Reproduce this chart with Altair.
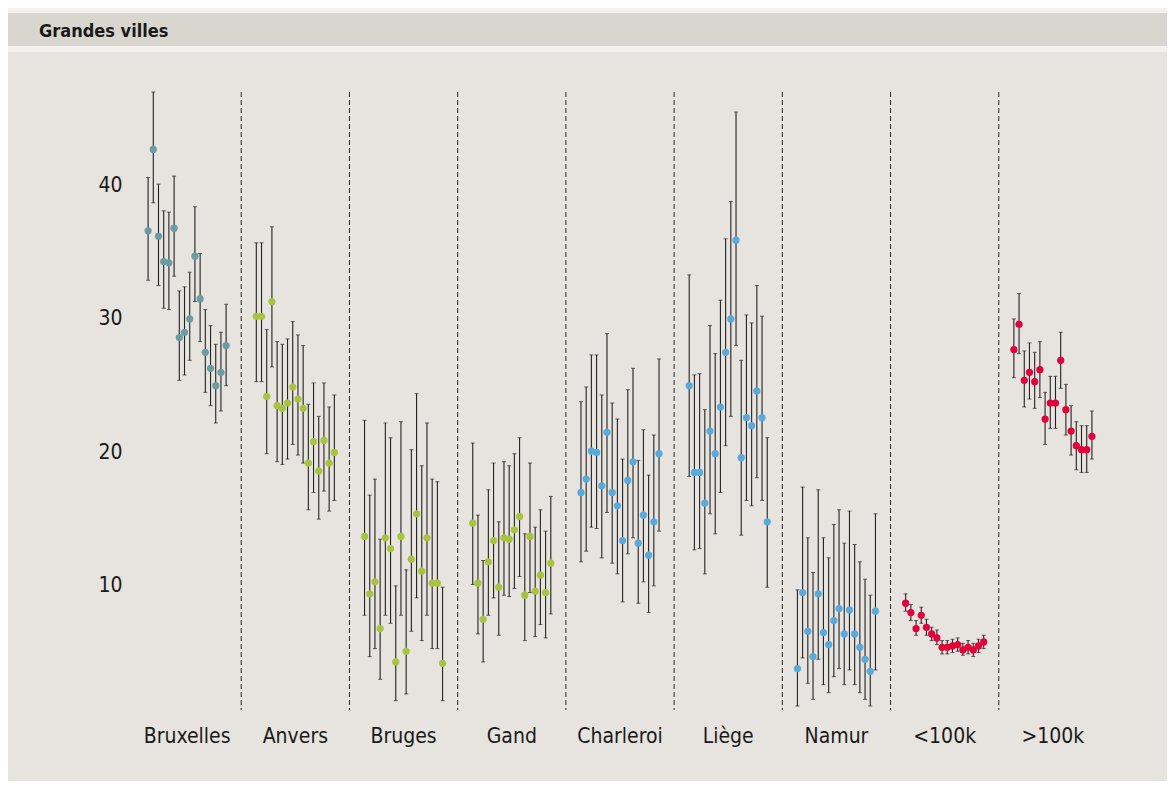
import altair as alt
import pandas as pd

# ---------------- data ----------------
groups = ["Bruxelles", "Anvers", "Bruges", "Gand", "Charleroi", "Liège", "Namur", "<100k", ">100k"]
group_colors = ["teal", "green", "green", "green", "blue", "blue", "blue", "red", "red"]

bruxelles_mid = [36.6, 42.7, 36.2, 34.3, 34.2, 36.8, 28.6, 29.0, 30.0, 34.7, 31.5, 27.5, 26.3, 25.0, 26.0, 28.0]
bruxelles_hi = [40.6, 47.0, 40.1, 38.1, 38.0, 40.7, 32.1, 32.4, 33.5, 38.4, 34.9, 30.7, 29.5, 28.1, 29.0, 31.1]
bruxelles_lo = [32.9, 38.7, 32.5, 30.8, 30.7, 33.2, 25.4, 25.8, 26.9, 31.3, 28.3, 24.5, 23.5, 22.2, 23.1, 25.0]

anvers_mid = [30.2, 30.2, 24.2, 31.3, 23.5, 23.3, 23.7, 24.9, 24.0, 23.3, 19.2, 20.8, 18.6, 20.9, 19.2, 20.0]
anvers_hi = [35.7, 35.7, 29.2, 36.9, 28.3, 28.1, 28.5, 29.8, 28.8, 28.0, 23.6, 25.2, 22.7, 25.2, 23.4, 24.3]
anvers_lo = [25.3, 25.3, 19.9, 26.4, 19.3, 19.1, 19.5, 20.6, 19.8, 19.2, 15.7, 17.0, 15.0, 17.1, 15.6, 16.4]

bruges_mid = [13.7, 9.4, 10.3, 6.8, 13.6, 12.8, 4.3, 13.7, 5.1, 12.0, 15.4, 11.1, 13.6, 10.2, 10.2, 4.2]
bruges_hi = [22.4, 16.8, 18.0, 13.5, 22.2, 21.1, 10.0, 22.3, 11.2, 20.2, 24.4, 19.0, 22.2, 18.0, 17.8, 9.9]
bruges_lo = [7.8, 4.7, 5.3, 3.0, 7.8, 7.2, 1.4, 7.8, 1.9, 6.6, 9.1, 5.9, 7.8, 5.3, 5.3, 1.4]

gand_mid = [14.7, 10.2, 7.5, 11.8, 13.4, 9.9, 13.6, 13.5, 14.2, 15.2, 9.3, 13.7, 9.6, 10.8, 9.5, 11.7]
gand_hi = [20.7, 15.3, 11.9, 17.2, 19.2, 14.8, 19.3, 19.0, 19.9, 21.1, 13.9, 19.2, 14.4, 15.7, 14.1, 16.7]
gand_lo = [10.1, 6.4, 4.3, 7.8, 9.1, 6.3, 9.3, 9.2, 9.8, 10.7, 5.9, 9.5, 6.2, 7.1, 6.1, 7.9]

charleroi_mid = [17.0, 18.0, 20.1, 20.0, 17.5, 21.5, 17.0, 16.0, 13.4, 17.9, 19.3, 13.2, 15.3, 12.3, 14.8, 19.9]
charleroi_hi = [23.8, 24.9, 27.3, 27.3, 24.3, 28.9, 23.7, 22.5, 19.5, 24.7, 26.3, 19.4, 21.7, 18.3, 21.3, 27.0]
charleroi_lo = [11.8, 12.6, 14.4, 14.3, 12.1, 15.5, 11.7, 10.9, 8.8, 12.4, 13.6, 8.7, 10.3, 8.0, 10.0, 14.1]

liege_mid = [25.0, 18.5, 18.5, 16.2, 21.6, 19.9, 23.4, 27.5, 30.0, 35.9, 19.6, 22.6, 22.0, 24.6, 22.6, 14.8]
liege_hi = [33.3, 25.8, 25.9, 23.2, 29.5, 27.4, 31.4, 36.0, 38.8, 45.5, 26.9, 30.3, 29.7, 32.5, 30.2, 21.1]
liege_lo = [18.2, 12.7, 12.8, 10.9, 15.4, 13.9, 17.0, 20.5, 22.7, 28.0, 13.8, 16.4, 16.0, 18.1, 16.4, 9.9]

namur_mid = [3.8, 9.5, 6.6, 4.7, 9.4, 6.5, 5.6, 7.4, 8.3, 6.4, 8.2, 6.4, 5.4, 4.5, 3.6, 8.1]
namur_hi = [9.7, 17.4, 13.6, 11.0, 17.2, 13.6, 12.1, 14.6, 15.7, 13.2, 15.6, 13.1, 11.8, 10.5, 9.3, 15.4]
namur_lo = [1.0, 4.6, 2.7, 1.5, 4.5, 2.6, 2.0, 3.2, 3.8, 2.6, 3.7, 2.6, 2.0, 1.5, 1.0, 3.7]

small_mid = [8.7, 8.0, 6.8, 7.8, 6.9, 6.4, 6.1, 5.4, 5.4, 5.5, 5.6, 5.2, 5.4, 5.2, 5.5, 5.8]
small_hi = [9.4, 8.6, 7.4, 8.4, 7.5, 6.9, 6.7, 5.9, 5.9, 6.0, 6.1, 5.7, 5.9, 5.7, 6.0, 6.3]
small_lo = [8.1, 7.4, 6.3, 7.2, 6.3, 5.9, 5.6, 4.9, 4.9, 5.0, 5.1, 4.8, 4.9, 4.7, 5.0, 5.3]

big_mid = [27.7, 29.6, 25.4, 26.0, 25.3, 26.2, 22.5, 23.7, 23.7, 26.9, 23.2, 21.6, 20.5, 20.2, 20.2, 21.2]
big_hi = [30.0, 31.9, 27.6, 28.2, 27.5, 28.3, 24.5, 25.7, 25.7, 29.0, 25.1, 23.5, 22.3, 22.0, 22.0, 23.1]
big_lo = [25.6, 27.4, 23.4, 24.0, 23.3, 24.1, 20.6, 21.8, 21.8, 24.8, 21.3, 19.8, 18.7, 18.5, 18.5, 19.5]

y_ticks = [10, 20, 30, 40]
title_text = "Grandes villes"

series = [
    (bruxelles_mid, bruxelles_lo, bruxelles_hi),
    (anvers_mid, anvers_lo, anvers_hi),
    (bruges_mid, bruges_lo, bruges_hi),
    (gand_mid, gand_lo, gand_hi),
    (charleroi_mid, charleroi_lo, charleroi_hi),
    (liege_mid, liege_lo, liege_hi),
    (namur_mid, namur_lo, namur_hi),
    (small_mid, small_lo, small_hi),
    (big_mid, big_lo, big_hi),
]

# ---------------- layout helpers ----------------
PITCH = 20.8      # group width in x units
OFFSET = 2.9      # first point inside group
W, H = 974, 618
FONT = "Liberation Sans Narrow, Arial Narrow, DejaVu Sans Condensed, sans-serif"

rows = []
for g, (mid, lo, hi) in enumerate(series):
    for j in range(len(mid)):
        rows.append({"group": groups[g], "col": group_colors[g],
                     "x": g * PITCH + OFFSET + j,
                     "mid": mid[j], "lo": lo[j], "hi": hi[j]})
df = pd.DataFrame(rows)

sep_df = pd.DataFrame({"x": [g * PITCH for g in range(1, len(groups))]})
lab_df = pd.DataFrame({"x": [g * PITCH + PITCH / 2 for g in range(len(groups))], "label": groups})

xscale = alt.Scale(domain=[0, PITCH * len(groups)], nice=False, zero=False)
yscale = alt.Scale(domain=[0.7, 47.0], nice=False, zero=False)
cscale = alt.Scale(domain=["teal", "green", "blue", "red"],
                   range=["#6b9ca3", "#a9c23f", "#58aadd", "#e3003b"])

X = alt.X("x:Q", scale=xscale, axis=None)
Y_AXIS = alt.Axis(values=y_ticks, title=None, domain=False, ticks=False, grid=False, zindex=1,
                  labelFont=FONT, labelFontSize=21, labelColor="#1a1a1a", labelPadding=11)

one = alt.Data(values=[{"a": 1}])

bar = alt.Chart(one).mark_rect(color="#d9d5cf").encode(
    x=alt.value(-125), x2=alt.value(1034), y=alt.value(-79), y2=alt.value(-46))
strip_top = alt.Chart(one).mark_rect(color="#f3f0ed").encode(
    x=alt.value(-125), x2=alt.value(1034), y=alt.value(-84), y2=alt.value(-79))
strip_mid = alt.Chart(one).mark_rect(color="#f3f0ed").encode(
    x=alt.value(-125), x2=alt.value(1034), y=alt.value(-46), y2=alt.value(-40))
title = alt.Chart(pd.DataFrame({"t": [title_text]})).mark_text(
    font=FONT, fontSize=18, fontWeight="bold", color="#1a1a1a", align="left", baseline="alphabetic"
).encode(x=alt.value(-94), y=alt.value(-55), text="t:N")

seps = alt.Chart(sep_df).mark_rule(color="#2a2a2a", strokeWidth=1, strokeDash=[5, 3]).encode(
    x=alt.X("x:Q", scale=xscale, axis=None), y=alt.value(0), y2=alt.value(H))

err = alt.Chart(df).mark_rule(color="#222222", strokeWidth=1.1).encode(
    x=X, y=alt.Y("lo:Q", scale=yscale, axis=Y_AXIS), y2="hi:Q")
cap_lo = alt.Chart(df).mark_tick(color="#222222", orient="horizontal", size=4, thickness=1).encode(
    x=X, y=alt.Y("lo:Q", scale=yscale))
cap_hi = alt.Chart(df).mark_tick(color="#222222", orient="horizontal", size=4, thickness=1).encode(
    x=X, y=alt.Y("hi:Q", scale=yscale))
pts = alt.Chart(df).mark_circle(size=52, opacity=1).encode(
    x=X, y=alt.Y("mid:Q", scale=yscale),
    color=alt.Color("col:N", scale=cscale, legend=None))

labels = alt.Chart(lab_df).mark_text(
    font=FONT, fontSize=21, color="#1a1a1a", align="center", baseline="alphabetic"
).encode(x=alt.X("x:Q", scale=xscale, axis=None), y=alt.value(651), text="label:N")

chart = alt.layer(bar, strip_top, strip_mid, title, seps, err, cap_lo, cap_hi, pts, labels).properties(
    width=W, height=H,
    autosize=alt.AutoSizeParams(type="none"),
    padding={"left": 125, "top": 84, "right": 60, "bottom": 71},
    background="#e7e3de",
).configure_view(stroke=None)

chart.save("out.html", embed_options={"renderer": "svg", "actions": False})
